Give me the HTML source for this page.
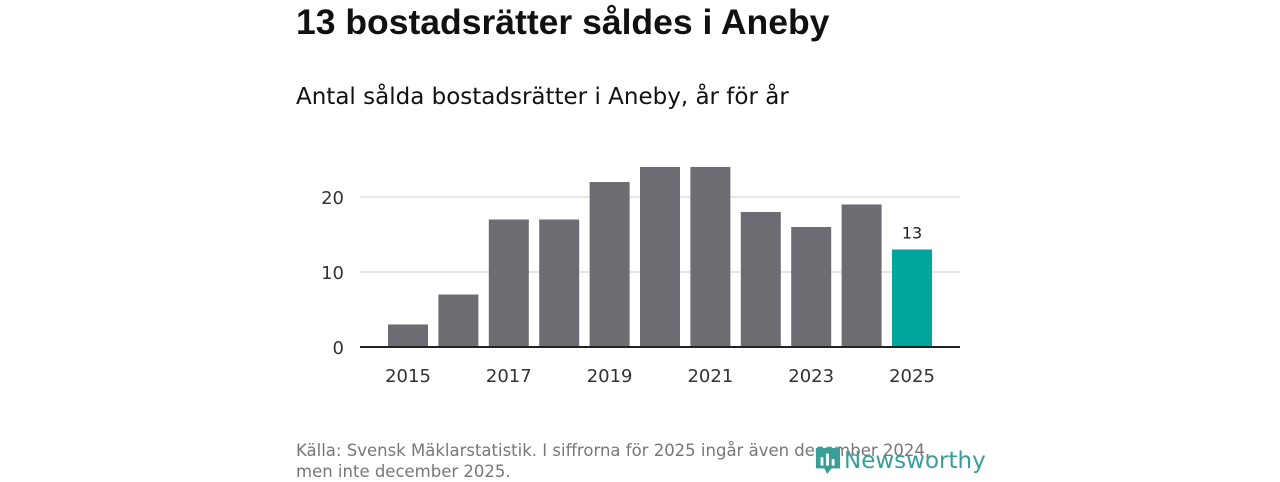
<!DOCTYPE html>
<html><head><meta charset="utf-8"><style>
body{margin:0;width:1280px;height:480px;background:#fff;font-family:"DejaVu Sans","Liberation Sans",sans-serif;position:relative;overflow:hidden}
#title{position:absolute;left:296px;top:2px;font-family:"Liberation Sans",sans-serif;font-size:35.5px;font-weight:bold;color:#111}
#sub{position:absolute;left:296px;top:84px;font-size:23px;color:#111}
#src{position:absolute;left:296px;top:440px;font-size:16.5px;color:#777;line-height:21px}
#logo{position:absolute;left:815px;top:445px;font-size:23px;color:#3a9e98;display:flex;align-items:center}
</style></head><body>
<div id="title">13 bostadsrätter såldes i Aneby</div>
<div id="sub">Antal sålda bostadsrätter i Aneby, år för år</div>
<svg id="chart" width="1280" height="480" style="position:absolute;left:0;top:0"></svg>
<div id="src">Källa: Svensk Mäklarstatistik. I siffrorna för 2025 ingår även december 2024,<br>men inte december 2025.</div>
<div id="logo"><svg width="26" height="32" viewBox="0 0 28 32"><path d="M1 2h26v22l-9 0-5 6-3-6H1z" fill="#3a9e98"/><rect x="6" y="12" width="3" height="9" fill="#fff"/><rect x="12" y="8" width="3" height="13" fill="#fff"/><rect x="18" y="14" width="3" height="7" fill="#fff"/></svg><span style="margin-left:3px">Newsworthy</span></div>
<script>
const years=[2015,2016,2017,2018,2019,2020,2021,2022,2023,2024,2025];
const values=[3,7,17,17,22,24,24,18,16,19,13];
const yTicks=[0,10,20];
const svg=document.getElementById('chart');const NS='http://www.w3.org/2000/svg';
const ax0=360,ax1=960,y0=347,ppu=7.5;
const firstC=408,lastC=912;
const step=(lastC-firstC)/(years.length-1);
const xc=i=>firstC+step*i;
const y=v=>y0-v*ppu;
function mk(t,a){const e=document.createElementNS(NS,t);for(const k in a)e.setAttribute(k,a[k]);svg.appendChild(e);return e;}
yTicks.forEach(v=>{
 if(v>0){const l=mk('line',{x1:ax0,x2:ax1,y1:y(v),y2:y(v),stroke:'#ddd','stroke-width':1.5});
 
 }
 const t=mk('text',{x:344,y:y(v)+7,'text-anchor':'end','font-size':18,fill:'#333'});t.textContent=v;
 
 
});
years.forEach((yr,i)=>{
 const last=i===years.length-1;
 const r=mk('rect',{x:xc(i)-20,y:y(values[i]),width:40,height:values[i]*ppu,fill:last?'#00a59b':'#6d6c72'});
 
 
 if(i%2===0){const t=mk('text',{x:xc(i),y:382,'text-anchor':'middle','font-size':18,fill:'#333'});t.textContent=yr;
 
 }
 if(last){const t=mk('text',{x:xc(i),y:y(values[i])-11,'text-anchor':'middle','font-size':16,fill:'#222'});t.textContent=values[i];
 
 }
});
const ax=mk('line',{x1:ax0,x2:ax1,y1:y0,y2:y0,stroke:'#222','stroke-width':2});


</script>
</body></html>
